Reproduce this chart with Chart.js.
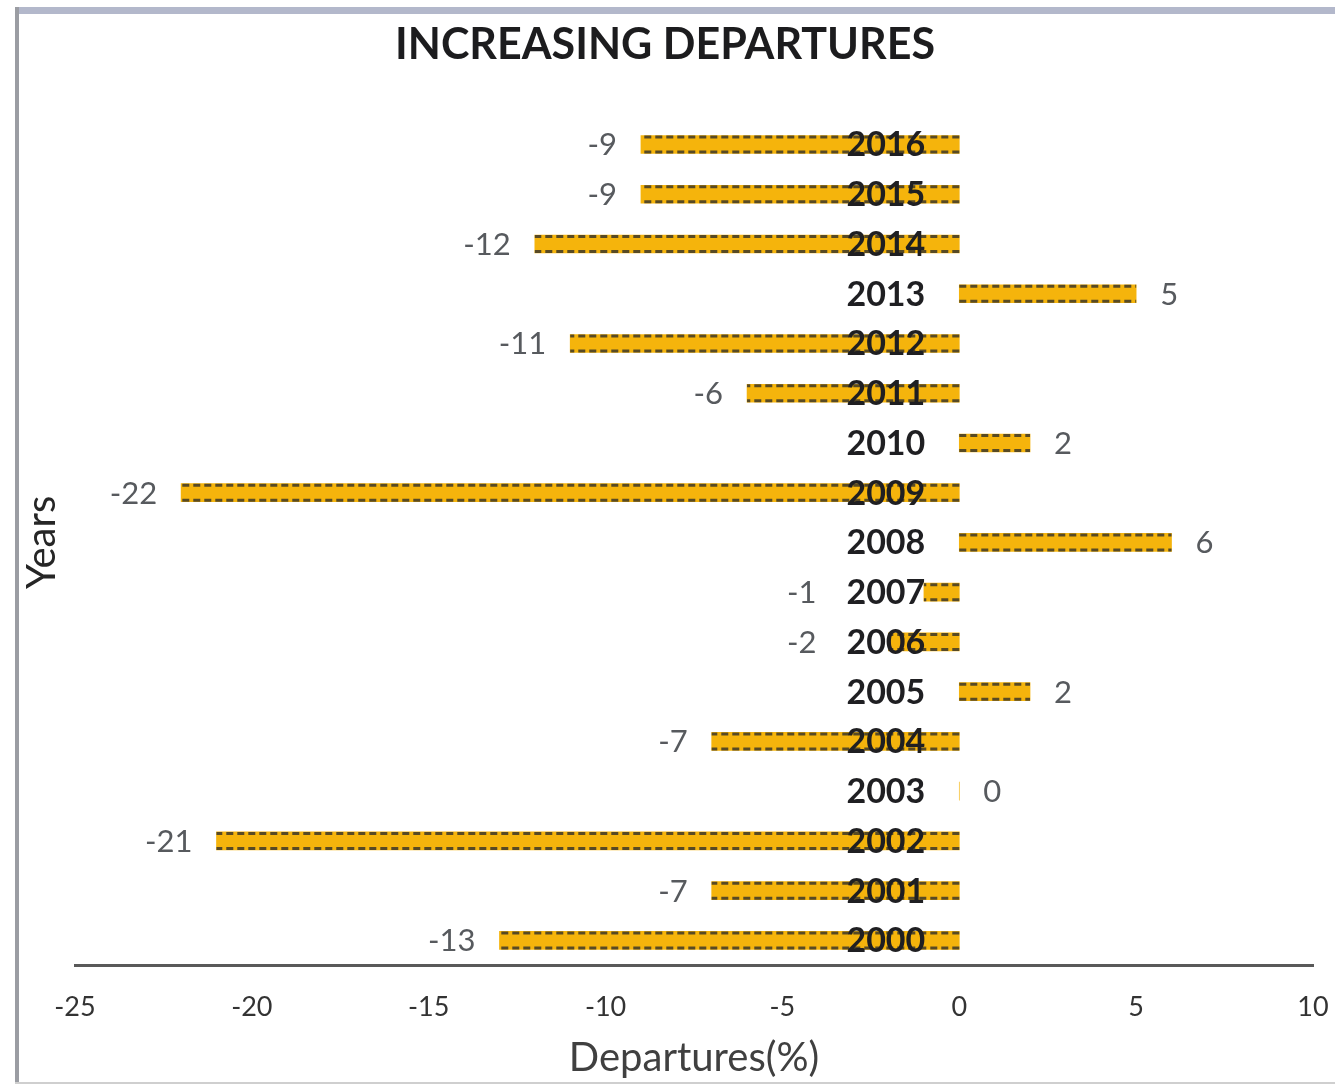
<!DOCTYPE html>
<html>
<head>
<meta charset="utf-8">
<script src="https://cdn.jsdelivr.net/npm/chart.js@4.4.1/dist/chart.umd.min.js"></script>
<style>
  html, body { margin: 0; padding: 0; background: #ffffff; }
  #wrap { width: 1335px; height: 1084px; position: relative; }
</style>
</head>
<body>
<div id="wrap"><canvas id="chart" width="1335" height="1084"></canvas></div>
<script>
// Yearly departures (%), 2000 through 2016
const years = ['2000', '2001', '2002', '2003', '2004', '2005', '2006', '2007', '2008',
               '2009', '2010', '2011', '2012', '2013', '2014', '2015', '2016'];
const departures = [-13, -7, -21, 0, -7, 2, -2, -1, 6, -22, 2, -6, -11, 5, -12, -9, -9];

// Value axis range and tick spacing
const xMin = -25;
const xMax = 10;
const xStep = 5;

const chartTitle = 'INCREASING DEPARTURES';
const xTitle = 'Departures(%)';
const yTitle = 'Years';

const FONT = "Lato, 'Open Sans', 'Liberation Sans', sans-serif";
const YEAR_PAD = 34;
const YEAR_FONT = `bold 34px ${FONT}`;
const VALUE_FONT = `31px ${FONT}`;

// Outer frame of the chart object
const frame = {
  id: 'frame',
  beforeDraw(chart) {
    const { ctx, width, height } = chart;
    ctx.save();
    ctx.fillStyle = '#ffffff';
    ctx.fillRect(0, 0, width, height);
    ctx.fillStyle = '#b3b8cb';
    ctx.fillRect(15, 7, width - 15, 7);
    ctx.fillStyle = '#9b9da3';
    ctx.fillRect(15, 7, 4, height - 7);
    ctx.fillStyle = '#cfcfcf';
    ctx.fillRect(15, height - 2, width - 15, 2);
    ctx.restore();
  }
};

// Dashed dark edges on each bar, then the year labels set against the zero line
const barDecor = {
  id: 'barDecor',
  afterDatasetsDraw(chart) {
    const { ctx } = chart;
    const meta = chart.getDatasetMeta(0);
    const yScale = chart.scales.y;
    const zero = chart.scales.x.getPixelForValue(0);
    ctx.save();
    ctx.lineWidth = 3;
    ctx.strokeStyle = '#584a24';
    ctx.setLineDash([7, 4]);
    meta.data.forEach((bar) => {
      const { x, y, base, height } = bar.getProps(['x', 'y', 'base', 'height'], true);
      if (Math.abs(x - base) < 1) return;
      const top = y - height / 2 + 1.5;
      const bot = y + height / 2 - 1.5;
      ctx.beginPath();
      ctx.moveTo(base, top); ctx.lineTo(x, top);
      ctx.moveTo(base, bot); ctx.lineTo(x, bot);
      ctx.stroke();
    });
    ctx.setLineDash([]);
    ctx.font = YEAR_FONT;
    ctx.fillStyle = '#1f1f22';
    ctx.textAlign = 'right';
    ctx.textBaseline = 'middle';
    years.forEach((yr, i) => {
      ctx.fillText(yr, zero - YEAR_PAD, yScale.getPixelForTick(i) + 1);
    });
    ctx.restore();
  }
};

// Value labels beyond the end of each bar, kept clear of the year labels
const valueLabels = {
  id: 'valueLabels',
  afterDraw(chart) {
    const { ctx } = chart;
    const meta = chart.getDatasetMeta(0);
    const zero = chart.scales.x.getPixelForValue(0);
    ctx.save();
    ctx.textBaseline = 'middle';
    meta.data.forEach((bar, i) => {
      const v = departures[i];
      ctx.font = YEAR_FONT;
      const yearLeft = zero - YEAR_PAD - ctx.measureText(years[i]).width;
      ctx.font = VALUE_FONT;
      ctx.fillStyle = '#575a5e';
      if (v < 0) {
        ctx.textAlign = 'right';
        ctx.fillText(String(v), Math.min(bar.x - 24, yearLeft - 30), bar.y + 1);
      } else {
        ctx.textAlign = 'left';
        ctx.fillText(String(v), bar.x + 24, bar.y + 1);
      }
    });
    ctx.restore();
  }
};

new Chart(document.getElementById('chart'), {
  type: 'bar',
  data: {
    labels: years,
    datasets: [{
      data: departures,
      backgroundColor: '#f5b40c',
      borderWidth: 0,
      barThickness: 18
    }]
  },
  options: {
    indexAxis: 'y',
    responsive: false,
    animation: false,
    devicePixelRatio: 1,
    layout: { padding: { left: 17, right: 22, top: 0, bottom: 2 } },
    plugins: {
      legend: { display: false },
      tooltip: { enabled: false },
      title: {
        display: true,
        text: chartTitle,
        color: '#1c1c1e',
        font: { family: FONT, size: 43, weight: 'bold', lineHeight: 1.2 },
        padding: { top: 19, bottom: 49 }
      }
    },
    scales: {
      x: {
        type: 'linear',
        position: 'bottom',
        min: xMin,
        max: xMax,
        grid: { display: false, drawTicks: true, tickLength: 27 },
        border: { display: true, color: '#595959', width: 3 },
        ticks: {
          stepSize: xStep,
          padding: 0,
          color: '#333333',
          font: { family: FONT, size: 27, lineHeight: 1.1 }
        },
        title: {
          display: true,
          text: xTitle,
          color: '#404040',
          font: { family: FONT, size: 40, lineHeight: 1.2 },
          padding: { top: 12, bottom: 0 }
        }
      },
      y: {
        type: 'category',
        reverse: true,
        display: false
      },
      yTitle: {
        type: 'linear',
        axis: 'y',
        position: 'left',
        min: 0,
        max: 1,
        grid: { display: false, drawTicks: false },
        border: { display: false },
        ticks: { display: false },
        title: {
          display: true,
          text: yTitle,
          color: '#262626',
          font: { family: FONT, size: 40, lineHeight: 1.2 },
          padding: { top: 1, bottom: 9 }
        }
      }
    }
  },
  plugins: [frame, barDecor, valueLabels]
});
</script>
</body>
</html>
